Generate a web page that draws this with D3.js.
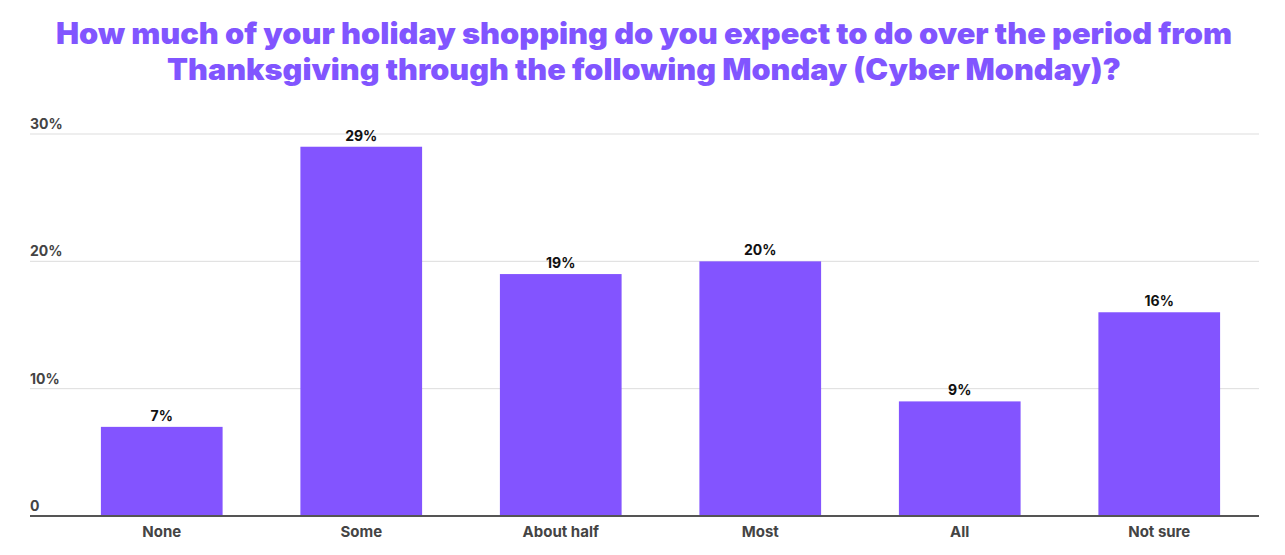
<!DOCTYPE html>
<html><head><meta charset="utf-8">
<script src="https://cdn.jsdelivr.net/npm/d3@7"></script>
<style>
body{margin:0;background:#fff;}
svg{display:block;font-family:Inter,"Noto Sans",sans-serif;}
</style></head>
<body><svg id="c" width="1285" height="555"></svg>
<script>
const titleLines = ["How much of your holiday shopping do you expect to do over the period from","Thanksgiving through the following Monday (Cyber Monday)?"];
const categories = ["None","Some","About half","Most","All","Not sure"];
const values = [7,29,19,20,9,16];
const yTicks = [0,10,20,30];
const tickLabels = ["0","10%","20%","30%"];

const svg = d3.select("#c");
const purple = "#8354ff";

// title
const titleWidths = [1176, 954];
titleLines.forEach((t,i)=>{
  svg.append("text").attr("x",644).attr("y",i===0?44:80)
    .attr("text-anchor","middle").attr("fill","#8155ff")
    .attr("font-weight",900).attr("font-size",29.5).text(t)
    .attr("textLength",titleWidths[i]).attr("lengthAdjust","spacingAndGlyphs");
});

const x = d3.scaleBand().domain(categories).range([62,1259]).paddingInner(0.39).paddingOuter(0.195);
const y = d3.scaleLinear().domain([0,30]).range([516,134]);

// gridlines
svg.append("g").selectAll("line").data(yTicks.slice(1)).join("line")
  .attr("x1",30).attr("x2",1259).attr("y1",d=>y(d)).attr("y2",d=>y(d))
  .attr("stroke","#dddddd").attr("stroke-width",1);

// tick labels
svg.append("g").selectAll("text").data(yTicks).join("text")
  .attr("x",30).attr("y",d=>y(d)-5).attr("fill","#444").attr("font-weight",700)
  .attr("font-size",14).text((d,i)=>tickLabels[i]);

// bars
svg.append("g").selectAll("rect").data(values).join("rect")
  .attr("x",(d,i)=>x(categories[i])).attr("width",x.bandwidth())
  .attr("y",d=>y(d)).attr("height",d=>y(0)-y(d)).attr("fill",purple);

// value labels
svg.append("g").selectAll("text").data(values).join("text")
  .attr("x",(d,i)=>x(categories[i])+x.bandwidth()/2).attr("y",d=>y(d)-6)
  .attr("text-anchor","middle").attr("fill","#111").attr("font-weight",700)
  .attr("font-size",14).text(d=>d+"%");

// baseline
svg.append("line").attr("x1",30).attr("x2",1259).attr("y1",y(0)).attr("y2",y(0))
  .attr("stroke","#555").attr("stroke-width",2);

// category axis
const xAxis = d3.axisBottom(x).tickSize(0).tickPadding(0);
const ga = svg.append("g").attr("transform",`translate(0,${y(0)})`).call(xAxis);
ga.select(".domain").remove();
ga.selectAll("text").attr("y",21).attr("dy",0).attr("fill","#444").attr("font-weight",700)
  .attr("font-size",15).attr("font-family",'Inter,"Noto Sans",sans-serif');
</script></body></html>
